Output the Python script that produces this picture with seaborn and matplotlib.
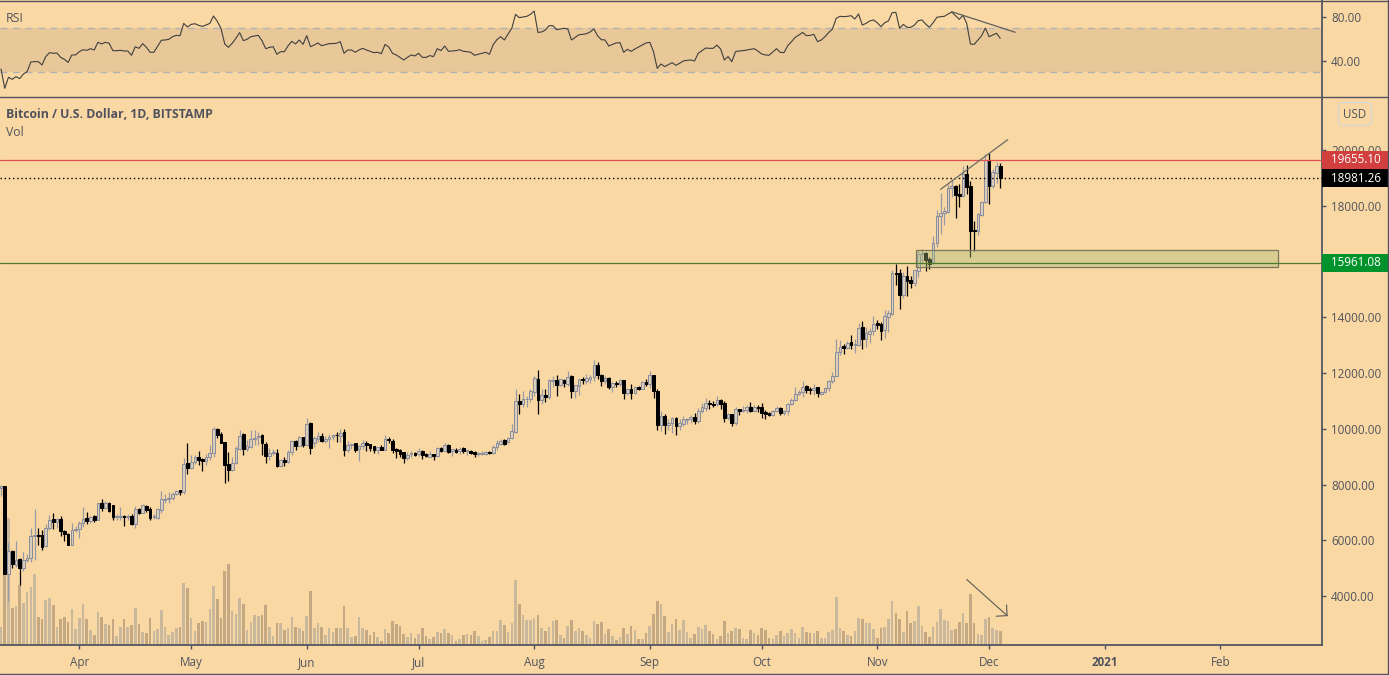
import pandas as pd
import numpy as np
import matplotlib
matplotlib.use('Agg')
import matplotlib.pyplot as plt
import matplotlib.dates as mdates
from matplotlib.lines import Line2D
from matplotlib.patches import Rectangle
import seaborn as sns

# ===============================
# DATA
# ===============================
start_date = '2020-03-11'

opens = [
    7880, 7943, 4812, 5612, 5135, 5349, 5015, 5302, 5385, 6174, 6180, 6186, 5803, 6449, 6759, 6664, 6759, 6353, 6246, 5839, 6380,
    6400, 6628, 6795, 6700, 6867, 6735, 7333, 7166, 7357, 7285, 6850, 6831, 6890, 6840, 6867, 6592, 7130, 6987, 7249, 7118, 6830, 6807, 7094, 7452, 7476, 7536, 7668, 7799, 7740, 8767,
    8600, 8815, 8982, 8910, 8862, 8994, 9137, 9986, 9807, 9520, 8731, 8516, 8791, 9281, 9807, 9281, 9352, 9627, 9699, 9771, 9472, 9030, 9140, 9149, 8659, 8898, 8803, 9185, 9556, 9388, 9699,
    9424, 10213, 9496, 9640, 9759, 9568, 9651, 9711, 9790, 9747, 9878, 9233, 9430, 9484, 9281, 9387, 9506, 9446, 9387, 9243, 9339, 9243, 9650, 9578, 9267, 9231, 9160, 8956, 9088, 9147,
    9088, 9219, 9088, 9004, 9112, 9028, 9327, 9207, 9434, 9207, 9255, 9207, 9303, 9220, 9207, 9183, 9100, 9100, 9112, 9183, 9135, 9351, 9470, 9602, 9530, 9673, 9888, 11012, 10880, 11060, 11083,
    11322, 11777, 11024, 11203, 11143, 11730, 11741, 11561, 11741, 11621, 11896, 11358, 11538, 11790, 11717, 11800, 11860, 12279, 11920, 11705, 11836, 11502, 11657, 11597, 11741, 11287, 11442, 11287, 11514, 11430, 11681,
    11609, 11920, 11358, 10127, 10450, 10127, 10199, 10378, 10104, 10175, 10319, 10366, 10414, 10283, 10641, 10761, 10940, 10890, 10880, 11048, 10916, 10378, 10522, 10199, 10725, 10630, 10677, 10773, 10629, 10796,
    10773, 10593, 10557, 10498, 10653, 10760, 10557, 10629, 10892, 11024, 11239, 11322, 11525, 11420, 11382, 11490, 11263, 11322, 11466, 11716, 11896, 12756, 12959, 12888, 13103, 13020, 13007, 13641, 13222, 13402, 13509,
    13796, 13748, 13533, 14023, 14119, 15575, 15575, 14788, 15467, 15337, 15242, 15659, 16270, 16316, 16077, 15945, 16662, 17630, 17738, 17774, 18634, 18694, 18407, 18347, 19148, 18694, 17140, 17093, 17666, 18132,
    19650, 18706, 19170, 19411,
]
highs = [
    7990, 7960, 5950, 5650, 5971, 5370, 5576, 5528, 6437, 7118, 6460, 6390, 6600, 6903, 6974, 6807, 6867, 6370, 6260, 6628, 6508,
    6700, 7213, 7034, 6890, 6903, 7345, 7476, 7405, 7370, 7285, 6950, 7190, 6900, 6960, 6940, 7225, 7154, 7297, 7273, 7213, 6940, 7154, 7763, 7655, 7727, 7740, 7820, 7800, 8946, 9484,
    9054, 9054, 9197, 8950, 9113, 9412, 10057, 10020, 9902, 9530, 9161, 8994, 9400, 9950, 9842, 9591, 9950, 9950, 9878, 9830, 9544, 9305, 9293, 9293, 8930, 9006, 9257, 9615, 9591, 9735, 9710,
    10404, 10237, 9735, 9878, 9842, 9735, 9830, 9806, 9878, 9986, 9986, 9556, 9508, 9500, 9430, 9590, 9566, 9470, 9390, 9350, 9410, 9769, 9697, 9650, 9327, 9267, 9165, 9183, 9219, 9171,
    9303, 9255, 9124, 9195, 9115, 9363, 9363, 9482, 9440, 9290, 9303, 9339, 9339, 9280, 9255, 9190, 9160, 9195, 9219, 9190, 9434, 9590, 9650, 9626, 9721, 10187, 11418, 11239, 11346, 11179, 11442,
    11884, 12099, 11442, 11418, 11777, 11884, 11920, 11800, 11777, 12063, 11920, 11590, 11800, 11848, 11956, 11944, 12458, 12386, 11980, 11896, 11872, 11681, 11705, 11800, 11770, 11466, 11597, 11530, 11538, 11705, 11777,
    12063, 11944, 11442, 10630, 10546, 10343, 10414, 10414, 10343, 10474, 10400, 10486, 10558, 10737, 10916, 11107, 11024, 11000, 11167, 11060, 10988, 10558, 10530, 10773, 10730, 10809, 10844, 10952, 10844, 10844,
    10916, 10665, 10593, 10677, 10808, 10780, 10670, 10930, 11095, 11490, 11406, 11705, 11561, 11513, 11597, 11513, 11350, 11500, 11764, 12027, 13210, 13174, 13031, 13150, 13354, 13234, 13796, 13856, 13641, 13629, 14059,
    13891, 13820, 14250, 14250, 15700, 15921, 15742, 15623, 15826, 15467, 15700, 16376, 16460, 16330, 16160, 16901, 17834, 18455, 17953, 18790, 18933, 18754, 18766, 19423, 19447, 18873, 17451, 17740, 18170, 19865,
    19900, 19303, 19578, 19518,
]
lows = [
    7600, 4780, 3820, 5015, 5050, 4405, 4907, 5230, 5230, 5290, 5827, 5648, 5780, 6365, 6400, 6460, 6150, 5983, 5839, 5839, 6305,
    6090, 6484, 6580, 6628, 6664, 6723, 7046, 7118, 7030, 6723, 6723, 6723, 6508, 6723, 6556, 6448, 6939, 6975, 7022, 6723, 6760, 6780, 6986, 7345, 7357, 7452, 7620, 7632, 7656, 8385,
    8550, 8755, 8695, 8480, 8720, 8875, 8994, 9663, 9496, 8062, 8134, 8480, 8755, 9233, 9054, 9209, 9300, 9412, 9412, 9054, 8779, 8875, 9054, 8635, 8635, 8671, 8780, 9054, 9257, 9376, 9352,
    9376, 9090, 9352, 9544, 9532, 9496, 9317, 9592, 9520, 9520, 9018, 9161, 9293, 9185, 8839, 9290, 9195, 9195, 9147, 9088, 9230, 9230, 9506, 9147, 8956, 8980, 8777, 8885, 8992, 9028,
    9040, 8920, 8992, 9000, 8873, 8980, 9171, 9195, 9135, 9028, 9135, 9088, 9147, 9052, 9100, 8992, 9028, 9076, 9076, 9088, 9112, 9231, 9410, 9410, 9506, 9650, 9865, 10522, 10785, 10785, 10964,
    11179, 10522, 10904, 10964, 11060, 11500, 11167, 11530, 11500, 11550, 11107, 11107, 11203, 11597, 11621, 11645, 11705, 11777, 11526, 11621, 11418, 11322, 11502, 11538, 11083, 11203, 11083, 11239, 11382, 11418, 11538,
    11466, 11107, 9948, 9912, 9817, 9960, 9853, 9769, 9960, 10100, 10163, 10223, 10163, 10199, 10558, 10653, 10701, 10785, 10821, 10701, 10247, 10307, 10092, 10127, 10486, 10605, 10570, 10593, 10593, 10605,
    10390, 10354, 10450, 10474, 10605, 10486, 10486, 10486, 10870, 11000, 11215, 11131, 11286, 11250, 11203, 11131, 11215, 11300, 11358, 11633, 11860, 12648, 12684, 12860, 12864, 12720, 12983, 12864, 12935, 13079, 13354,
    13569, 13186, 13246, 13473, 14100, 15158, 14286, 14692, 14752, 15039, 15130, 15440, 15920, 15647, 15718, 15900, 16519, 16973, 17296, 17750, 18312, 17559, 17953, 18300, 18407, 16160, 16376, 16950, 17620, 18100,
    18049, 18650, 18813, 18622,
]
closes = [
    7940, 4790, 5612, 5158, 5313, 5015, 5313, 5385, 6174, 6190, 6170, 5767, 6460, 6747, 6664, 6759, 6341, 6222, 5840, 6389, 6400,
    6640, 6783, 6688, 6855, 6723, 7333, 7154, 7357, 7046, 6831, 6870, 6890, 6843, 6860, 6580, 7118, 6975, 7261, 7082, 6795, 6860, 7118, 7476, 7500, 7536, 7680, 7763, 7740, 8755, 8600,
    8827, 8982, 8886, 8862, 9006, 9149, 9986, 9795, 9500, 8695, 8516, 8791, 9305, 9759, 9269, 9376, 9651, 9687, 9759, 9484, 9030, 9149, 9160, 8659, 8898, 8803, 9185, 9556, 9376, 9699, 9412,
    10189, 9317, 9663, 9759, 9556, 9651, 9723, 9771, 9770, 9866, 9233, 9436, 9450, 9257, 9400, 9506, 9410, 9327, 9243, 9339, 9243, 9650, 9590, 9231, 9195, 9112, 8956, 9076, 9147, 9076,
    9219, 9052, 9028, 9112, 9016, 9327, 9195, 9410, 9183, 9267, 9183, 9291, 9195, 9240, 9135, 9100, 9147, 9147, 9171, 9124, 9363, 9506, 9578, 9470, 9673, 9936, 11012, 10880, 11083, 11083, 11346,
    11812, 11024, 11203, 11131, 11741, 11750, 11561, 11777, 11657, 11872, 11358, 11561, 11777, 11770, 11836, 11872, 12279, 11920, 11705, 11836, 11502, 11657, 11597, 11741, 11287, 11442, 11287, 11502, 11442, 11681, 11609,
    11920, 11358, 10127, 10450, 10127, 10223, 10378, 10104, 10223, 10343, 10366, 10414, 10271, 10653, 10773, 10940, 10880, 10870, 11048, 10880, 10390, 10522, 10199, 10725, 10641, 10689, 10773, 10629, 10796, 10760,
    10557, 10534, 10498, 10653, 10760, 10557, 10653, 10904, 11024, 11263, 11334, 11513, 11394, 11400, 11478, 11275, 11334, 11478, 11728, 11908, 12768, 12947, 12888, 13091, 12995, 13040, 13629, 13210, 13449, 13521, 13772,
    13736, 13509, 14035, 14142, 15575, 15550, 14788, 15467, 15290, 15242, 15682, 16280, 16300, 16041, 15921, 16662, 17642, 17750, 17798, 18646, 18694, 18371, 18335, 19124, 18670, 17093, 17080, 17714, 18144, 19650,
    18706, 19196, 19411, 18981,
]
volumes = [
    18, 140, 127, 37, 39, 60, 42, 53, 58, 71, 28, 26, 45, 47, 40, 18, 26, 28, 23, 36, 16,
    27, 41, 26, 15, 10, 33, 28, 21, 20, 26, 9, 18, 26, 18, 20, 37, 21, 13, 12, 27, 14, 16, 35, 18, 10, 13, 17, 18, 62, 57,
    27, 14, 22, 24, 23, 36, 59, 46, 27, 74, 81, 34, 31, 47, 41, 15, 23, 30, 29, 30, 40, 18, 9, 22, 22, 15, 17, 28, 18, 17, 14,
    29, 54, 17, 22, 18, 10, 17, 13, 17, 17, 39, 17, 8, 9, 28, 17, 15, 10, 13, 8, 4, 16, 12, 24, 21, 19, 11, 8, 12, 7,
    11, 17, 9, 6, 8, 13, 12, 16, 12, 10, 4, 6, 10, 11, 10, 14, 9, 4, 5, 8, 14, 14, 25, 20, 13, 22, 65, 41, 30, 25, 25,
    27, 30, 17, 14, 18, 24, 25, 10, 7, 19, 25, 14, 17, 14, 10, 7, 24, 21, 23, 11, 16, 9, 5, 8, 17, 11, 19, 15, 6, 6, 12,
    19, 31, 44, 41, 29, 13, 21, 26, 15, 25, 13, 7, 11, 18, 16, 20, 14, 11, 6, 9, 24, 12, 14, 17, 16, 7, 6, 15, 12, 10,
    17, 15, 7, 6, 10, 14, 9, 12, 16, 12, 7, 18, 13, 12, 12, 14, 7, 7, 13, 15, 48, 17, 14, 10, 9, 14, 27, 26, 22, 22, 16,
    7, 17, 18, 26, 44, 32, 26, 13, 34, 22, 24, 39, 19, 13, 8, 18, 23, 36, 25, 24, 15, 16, 23, 32, 22, 51, 22, 11, 10, 26,
    28, 17, 15, 14,
]
rsi_values = [
    32.7, 15.2, 25.2, 23.3, 25.8, 24.0, 28.2, 30.3, 39.1, 39.4,
    39.4, 36.4, 44.0, 47.6, 47.0, 47.3, 43.3, 41.5, 38.8, 45.5,
    45.5, 48.5, 50.3, 49.7, 51.2, 50.0, 57.0, 55.5, 57.0, 56.1,
    49.4, 49.4, 49.7, 49.1, 49.1, 45.2, 53.0, 51.5, 55.8, 52.4,
    47.9, 47.9, 53.3, 58.8, 59.1, 59.7, 62.1, 63.3, 63.0, 74.2,
    70.9, 73.3, 73.9, 72.4, 71.5, 72.7, 74.2, 80.9, 76.1, 69.7,
    55.5, 52.4, 56.1, 60.6, 65.8, 58.5, 59.7, 62.1, 62.7, 63.3,
    58.5, 51.2, 52.4, 53.0, 46.1, 48.5, 48.5, 53.9, 57.9, 55.5,
    59.1, 55.1, 63.0, 53.0, 54.5, 56.4, 53.9, 54.8, 55.8, 55.8,
    56.1, 57.6, 47.0, 50.0, 50.0, 47.9, 50.0, 51.5, 50.0, 48.8,
    47.6, 47.9, 46.7, 55.1, 52.7, 47.0, 45.5, 43.3, 40.9, 43.3,
    45.5, 44.6, 47.0, 43.3, 43.3, 44.9, 44.0, 51.2, 49.4, 53.6,
    48.8, 49.1, 49.4, 50.3, 48.8, 48.5, 47.9, 45.2, 46.1, 47.0,
    47.9, 46.1, 54.9, 59.4, 62.1, 59.1, 64.6, 69.7, 82.4, 79.4,
    80.0, 80.6, 82.4, 85.4, 66.0, 66.4, 68.2, 72.1, 72.1, 68.5,
    69.1, 69.7, 69.1, 59.1, 61.5, 63.9, 64.2, 64.8, 66.4, 69.1,
    63.0, 59.4, 59.1, 53.6, 55.1, 56.4, 56.7, 47.9, 50.6, 48.8,
    50.9, 52.7, 54.5, 56.4, 57.0, 48.5, 33.3, 37.3, 34.9, 36.7,
    38.5, 36.1, 37.9, 40.0, 40.6, 40.9, 40.0, 47.0, 49.4, 51.8,
    51.5, 51.5, 54.5, 50.9, 40.9, 44.0, 39.4, 48.5, 49.1, 49.4,
    50.0, 50.6, 51.2, 49.1, 46.4, 45.5, 45.2, 48.2, 51.2, 47.9,
    47.6, 53.9, 57.6, 61.5, 63.6, 66.0, 63.0, 63.3, 64.2, 57.6,
    59.1, 62.1, 66.0, 69.1, 78.8, 80.6, 80.3, 80.6, 81.2, 78.2,
    82.7, 72.7, 74.2, 76.4, 77.3, 74.8, 71.2, 74.8, 76.4, 83.9,
    84.2, 69.7, 73.3, 70.6, 70.6, 72.7, 76.7, 77.3, 73.6, 70.6,
    74.8, 79.7, 80.3, 80.6, 82.7, 84.5, 81.2, 77.9, 81.5, 74.2,
    55.5, 55.1, 59.1, 63.0, 70.0, 62.1, 63.6, 65.2, 60.6,
]

price_ticks = [4000, 6000, 8000, 10000, 12000, 14000, 16000, 18000, 20000]
rsi_ticks = [40, 80]
month_ticks = ['2020-04-01', '2020-05-01', '2020-06-01', '2020-07-01', '2020-08-01', '2020-09-01',
               '2020-10-01', '2020-11-01', '2020-12-01', '2021-01-01', '2021-02-01']
month_labels = ['Apr', 'May', 'Jun', 'Jul', 'Aug', 'Sep', 'Oct', 'Nov', 'Dec', '2021', 'Feb']

resistance = 19655.10
last_price = 18981.26
support = 15961.08
zone_dates = ['2020-11-11 10:00', '2021-02-16 12:00']
zone_prices = [15810, 16400]
wedge_dates = ['2020-11-18', '2020-12-06']
wedge_prices = [18590, 20370]
rsi_trend_dates = ['2020-11-21', '2020-12-08']
rsi_trend_values = [84.8, 66.1]
arrow_dates = ['2020-11-25', '2020-12-06']
arrow_prices = [4600, 3285]

# ===============================
# STYLE
# ===============================
BG = '#FAD8A3'
BAND = '#E8C898'
EDGE = '#4E5261'
TEXT = '#50535E'
UP_EDGE = '#8A8D9C'
UP_FILL = '#DCCDB8'
WICK_UP = '#979AA6'

sns.set_theme(style='white')
plt.rcParams['font.family'] = ['Open Sans', 'DejaVu Sans']
plt.rcParams['font.size'] = 8.4

W, H = 1389, 675
PANE_R = 1322
fig = plt.figure(figsize=(W / 100, H / 100), dpi=100, facecolor=BG)


def pane_rect(top, bottom):
    return [0, 1 - bottom / H, PANE_R / W, (bottom - top) / H]


ax_rsi = fig.add_axes(pane_rect(0, 97), facecolor=BG)
ax_vol = fig.add_axes(pane_rect(98, 645), facecolor=BG)
ax = fig.add_axes(pane_rect(98, 645), facecolor='none')

dates = pd.date_range(start_date, periods=len(closes))
x = mdates.date2num(dates)
df = pd.DataFrame({'x': x, 'open': opens, 'high': highs, 'low': lows, 'close': closes,
                   'volume': volumes, 'rsi': rsi_values})
df['dir'] = np.where(df['close'] >= df['open'], 'up', 'down')
xlim = mdates.date2num(pd.to_datetime(['2020-03-10 17:30', '2021-02-28 07:00']))

# ===============================
# RSI pane
# ===============================
ax_rsi.axhspan(30, 70, color=BAND, lw=0)
for level in [30, 70]:
    ax_rsi.axhline(level, color='#B3B3B5', lw=1, dashes=(5, 4))
sns.lineplot(data=df, x='x', y='rsi', color='#3F3F3F', lw=0.8, ax=ax_rsi)
ax_rsi.plot(mdates.date2num(pd.to_datetime(rsi_trend_dates)), rsi_trend_values, color='#5E5E5E', lw=0.9)
ax_rsi.set_xlim(xlim)
ax_rsi.set_ylim(7.27, 95.45)
ax_rsi.set_xticks([])
ax_rsi.set_xlabel('')
ax_rsi.set_ylabel('')
ax_rsi.yaxis.tick_right()
ax_rsi.set_yticks(rsi_ticks, [f'{t:.2f}' for t in rsi_ticks])

# ===============================
# Volume (behind the candles)
# ===============================
sns.barplot(data=df, x='x', y='volume', hue='dir', palette={'up': '#CAB89C', 'down': '#C4A882'},
            native_scale=True, dodge=False, width=0.7, saturation=1, legend=False, lw=0, ax=ax_vol)
ax_vol.set_xlim(xlim)
ax_vol.set_ylim(0, 547)
ax_vol.axis('off')
ax_vol.add_patch(Rectangle((0, 0), 1, 1, transform=ax_vol.transAxes, color=BG, zorder=0))

# ===============================
# Candles
# ===============================
up = df[df['dir'] == 'up']
down = df[df['dir'] == 'down']
ax.vlines(up['x'], up['low'], up['high'], color=WICK_UP, lw=0.9, zorder=2)
ax.vlines(down['x'], down['low'], down['high'], color='black', lw=0.9, zorder=2)
ax.bar(up['x'], (up['close'] - up['open']).clip(lower=20), bottom=up['open'], width=0.72,
       facecolor=UP_FILL, edgecolor=UP_EDGE, lw=0.72, zorder=3)
ax.bar(down['x'], (down['close'] - down['open']).clip(upper=-20), bottom=down['open'], width=0.72,
       facecolor='black', edgecolor='black', lw=0.72, zorder=3)

# zone and levels
zx = mdates.date2num(pd.to_datetime(zone_dates))
ax.add_patch(Rectangle((zx[0], zone_prices[0]), zx[1] - zx[0], zone_prices[1] - zone_prices[0],
                       facecolor=(0.647, 0.729, 0.47, 0.40), edgecolor='#7A7660', lw=0.9, zorder=4))
ax.axhline(resistance, color='#E05050', lw=0.9, zorder=5)
ax.axhline(last_price, color='black', lw=1, dashes=(1, 2), zorder=5)
ax.axhline(support, color='#4F7A2A', lw=0.9, zorder=5)
ax.plot(mdates.date2num(pd.to_datetime(wedge_dates)), wedge_prices, color='#6A6A66', lw=0.9, zorder=5)
ax_x = mdates.date2num(pd.to_datetime(arrow_dates))
ax.annotate('', xy=(ax_x[1], arrow_prices[1]), xytext=(ax_x[0], arrow_prices[0]),
            arrowprops=dict(arrowstyle='->,head_length=0.55,head_width=0.55', color='#5A5A5A', lw=0.8,
                            shrinkA=0, shrinkB=0, mutation_scale=10), zorder=5)

ax.set_xlim(xlim)
ax.set_ylim(2250, 21865)
ax.yaxis.tick_right()
ax.set_yticks(price_ticks, [f'{t:.2f}' for t in price_ticks])
ax.set_xticks(mdates.date2num(pd.to_datetime(month_ticks)), month_labels)
ax.get_xticklabels()[month_labels.index('2021')].set_fontweight('bold')

for a in [ax_rsi, ax]:
    for side in ['top', 'left', 'bottom', 'right']:
        a.spines[side].set_visible(False)
    a.spines['right'].set_visible(True)
    a.spines['right'].set_color(EDGE)
    a.tick_params(axis='y', right=True, length=3, width=1, color=EDGE, labelcolor=TEXT, pad=3.4, labelsize=8.4)
ax.spines['bottom'].set_visible(True)
ax.spines['bottom'].set_color(EDGE)
ax.tick_params(axis='x', bottom=True, length=3, width=1, color=EDGE, labelcolor=TEXT, pad=5, labelsize=8.4)

# ===============================
# Price tags on the axis
# ===============================
tag_h = 645
for value, colour in [(resistance, '#D13F3F'), (last_price, 'black'), (support, '#00932B')]:
    ax.add_patch(Rectangle((1, value - tag_h / 2), 67 / PANE_R, tag_h, facecolor=colour, edgecolor='none',
                           transform=ax.get_yaxis_transform(), clip_on=False, zorder=6))
    ax.text(1 + 9 / PANE_R, value, f'{value:.2f}', color='white', fontsize=8.4, va='center', ha='left',
            transform=ax.get_yaxis_transform(), clip_on=False, zorder=7)

# ===============================
# Labels and frame
# ===============================
fig.text(6 / W, 1 - 18.2 / H, 'RSI', color=TEXT, fontsize=8.8, va='center')
fig.text(6 / W, 1 - 115 / H, 'Bitcoin / U.S. Dollar, 1D, BITSTAMP', color=TEXT, fontsize=8.85,
         fontweight='bold', va='center')
fig.text(6 / W, 1 - 132.5 / H, 'Vol', color=TEXT, fontsize=8.8, va='center')
fig.text(1355 / W, 1 - 114 / H, 'USD', color=TEXT, fontsize=8.4, va='center', ha='center',
         bbox=dict(boxstyle='round,pad=0.42,rounding_size=0.4', facecolor='none', edgecolor='#D8D6D2', lw=1))

for xs, ys in [([0, W], [0.5, 0.5]), ([0, W], [97, 97]), ([0, W], [673.5, 673.5]), ([W - 1, W - 1], [0, H])]:
    fig.add_artist(Line2D([v / W for v in xs], [1 - v / H for v in ys], color=EDGE, lw=1))

fig.savefig('out.png', dpi=100, facecolor=BG)
